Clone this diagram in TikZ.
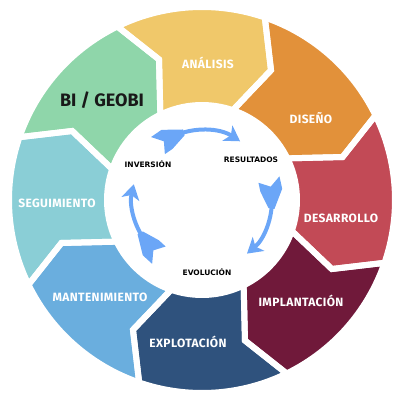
\documentclass[tikz,border=0pt]{standalone}
\usepackage{fontspec}
\setmainfont{Fira Sans}
\newfontfamily\innerfont{DejaVu Sans}
\newfontfamily\segfont[LetterSpace=3]{Fira Sans}
\usetikzlibrary{arrows.meta}
\definecolor{cgreen}{HTML}{8FD6AA}
\definecolor{cyellow}{HTML}{F0C86A}
\definecolor{corange}{HTML}{E2913A}
\definecolor{cred}{HTML}{C24A56}
\definecolor{cmaroon}{HTML}{70193A}
\definecolor{cnavy}{HTML}{2F527D}
\definecolor{cblue}{HTML}{6AAEDE}
\definecolor{cteal}{HTML}{8ACED6}
\definecolor{carrow}{HTML}{6BA6F7}
\newcommand{\segpath}[1]{(#1:193pt) arc[start angle=#1, end angle={#1-45}, radius=193pt] -- ({#1-54}:147pt) -- ({#1-45}:95pt) arc[start angle={#1-45}, end angle=#1, radius=95pt] -- ({#1-9}:147pt) -- cycle}
\newcommand{\cyclearrow}[2]{%
  \draw[carrow, line width=4pt, -{Stealth[length=15pt,width=18pt,inset=4pt]}] ({#1-14}:70pt) arc[start angle={#1-14}, end angle=#2, radius=70pt];
  \fill[carrow] (#1:81pt) -- ({#1-6}:70pt) -- (#1:59pt) -- ({#1-9}:59pt) -- ({#1-24}:67pt) -- ({#1-24}:73pt) -- ({#1-9}:81pt) -- cycle;}
\tikzset{
  seglabel/.style={text=white, font=\segfont\bfseries\fontsize{12}{13}\selectfont},
  biglabel/.style={text=black!90, font=\bfseries\fontsize{18}{20}\selectfont},
  innerlabel/.style={text=black, font=\innerfont\bfseries\fontsize{7.5}{8}\selectfont},
  gap/.style={draw=white, line width=6pt}
}
\begin{document}
\begin{tikzpicture}[x=1pt,y=1pt]
\useasboundingbox (-202,-200) rectangle (198,200);
% segments
\fill[cyellow] \segpath{116};
\fill[corange] \segpath{71};
\fill[cred] \segpath{26};
\fill[cmaroon] \segpath{-19};
\fill[cnavy] \segpath{-64};
\fill[cblue] \segpath{-109};
\fill[cteal] \segpath{-154};
\fill[cgreen] \segpath{161};
\foreach \a in {116,71,26,-19,-64,-109,-154,161} {
  \draw[gap] \segpath{\a};
}
% labels
\node[seglabel] (analisis) at (6,137) {ANÁLISIS};
\node[seglabel] (diseno) at (109,82) {DISEÑO};
\node[seglabel] (desarrollo) at (139,-18) {DESARROLLO};
\node[seglabel] (implantacion) at (99,-101) {IMPLANTACIÓN};
\node[seglabel] (explotacion) at (-14,-142) {EXPLOTACIÓN};
\node[seglabel] (mantenimiento) at (-102,-97) {MANTENIMIENTO};
\node[seglabel] (seguimiento) at (-145,-3) {SEGUIMIENTO};
\node[biglabel] (bigeobi) at (-100,100) {BI / GEOBI};
% inner cycle
\cyclearrow{129}{57}
\cyclearrow{17}{-50}
\cyclearrow{-128}{-193}
\node[innerlabel] (inversion) at (-54,36) {INVERSIÓN};
\node[innerlabel] (resultados) at (49,40) {RESULTADOS};
\node[innerlabel] (evolucion) at (5,-72) {EVOLUCIÓN};
\end{tikzpicture}
\end{document}
